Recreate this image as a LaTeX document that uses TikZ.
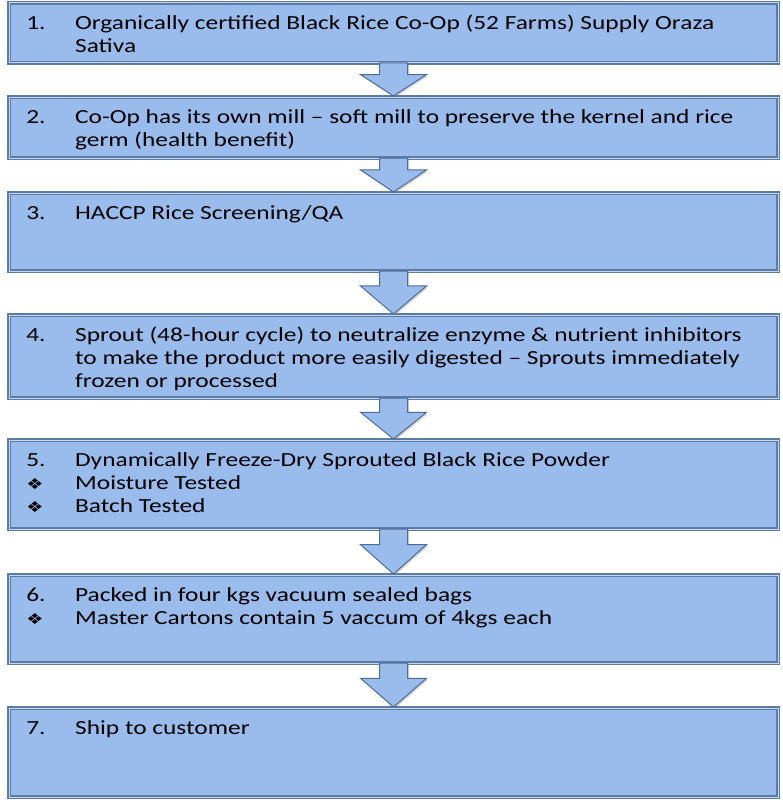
\documentclass[tikz,border=0pt]{standalone}
\usepackage{fontspec}
\setmainfont{Carlito}
\newfontfamily\dingfont{DejaVu Sans}
\usepackage{tikz}
\usetikzlibrary{calc,shadows}
\definecolor{boxfill}{RGB}{153,188,237}
\definecolor{boxedge}{RGB}{92,124,166}
\definecolor{boxlight}{RGB}{196,214,240}
\definecolor{arrowedge}{RGB}{78,108,150}
\newcommand{\dingbullet}{{\dingfont\fontsize{15}{15}\selectfont ❖}}
\newcommand{\flowarrow}[2]{%
  \draw[flowarrowstyle] let \p1=(#1.south), \p2=(#2.north), \n1={(\y1-\y2)*0.66} in
    (\x1-14,\y1) -- (\x1-14,\y2+\n1) -- (\x1-33,\y2+\n1) -- (\x2,\y2+1)
    -- (\x1+33,\y2+\n1) -- (\x1+14,\y2+\n1) -- (\x1+14,\y1) -- cycle;}

\begin{document}
\begin{tikzpicture}[x=1pt, y=1pt]
        % stepN = box of step N, textN = its text
        \tikzstyle{stepbox}=[rectangle, anchor=north west, fill=boxfill, draw=boxedge,
                double=boxlight, double distance=1pt, line width=1.6pt, outer sep=0pt,
                minimum width=769pt, drop shadow={shadow xshift=2pt, shadow yshift=-2pt, opacity=0.35}]
        \tikzstyle{steptext}=[anchor=north west, inner sep=0pt, align=left, xscale=1.27, transform shape,
                font=\fontsize{20}{23}\selectfont]
        \tikzstyle{flowarrowstyle}=[fill=boxfill, draw=arrowedge, line width=1pt, line join=miter,
                drop shadow={shadow xshift=1.5pt, shadow yshift=-1.5pt, opacity=0.35}]
        \useasboundingbox (0,0) rectangle (782,-800);

        \node[stepbox, minimum height=60pt] (step1) at (9,-3) {};
        \node[stepbox, minimum height=61pt] (step2) at (9,-97) {};
        \node[stepbox, minimum height=78pt] (step3) at (9,-193) {};
        \node[stepbox, minimum height=83pt] (step4) at (9,-315) {};
        \node[stepbox, minimum height=89pt] (step5) at (9,-440) {};
        \node[stepbox, minimum height=88pt] (step6) at (9,-575) {};
        \node[stepbox, minimum height=89pt] (step7) at (9,-708) {};

        \flowarrow{step1}{step2}
        \flowarrow{step2}{step3}
        \flowarrow{step3}{step4}
        \flowarrow{step4}{step5}
        \flowarrow{step5}{step6}
        \flowarrow{step6}{step7}

        \node[steptext] (text1) at ([shift={(17,-10)}]step1.north west) {%
                \begin{tabular}{@{}p{38.5pt}@{}l@{}}
                1. & Organically certified Black Rice Co-Op (52 Farms) Supply Oraza\\
                   & Sativa
                \end{tabular}};
        \node[steptext] (text2) at ([shift={(17,-10)}]step2.north west) {%
                \begin{tabular}{@{}p{38.5pt}@{}l@{}}
                2. & Co-Op has its own mill – soft mill to preserve the kernel and rice\\
                   & germ (health benefit)
                \end{tabular}};
        \node[steptext] (text3) at ([shift={(17,-10)}]step3.north west) {%
                \begin{tabular}{@{}p{38.5pt}@{}l@{}}
                3. & HACCP Rice Screening/QA
                \end{tabular}};
        \node[steptext] (text4) at ([shift={(17,-10)}]step4.north west) {%
                \begin{tabular}{@{}p{38.5pt}@{}l@{}}
                4. & Sprout (48-hour cycle) to neutralize enzyme \& nutrient inhibitors\\
                   & to make the product more easily digested – Sprouts immediately\\
                   & frozen or processed
                \end{tabular}};
        \node[steptext] (text5) at ([shift={(17,-10)}]step5.north west) {%
                \begin{tabular}{@{}p{38.5pt}@{}l@{}}
                5. & Dynamically Freeze-Dry Sprouted Black Rice Powder\\
                \dingbullet & Moisture Tested\\
                \dingbullet & Batch Tested
                \end{tabular}};
        \node[steptext] (text6) at ([shift={(17,-10)}]step6.north west) {%
                \begin{tabular}{@{}p{38.5pt}@{}l@{}}
                6. & Packed in four kgs vacuum sealed bags\\
                \dingbullet & Master Cartons contain 5 vaccum of 4kgs each
                \end{tabular}};
        \node[steptext] (text7) at ([shift={(17,-10)}]step7.north west) {%
                \begin{tabular}{@{}p{38.5pt}@{}l@{}}
                7. & Ship to customer
                \end{tabular}};
\end{tikzpicture}
\end{document}
